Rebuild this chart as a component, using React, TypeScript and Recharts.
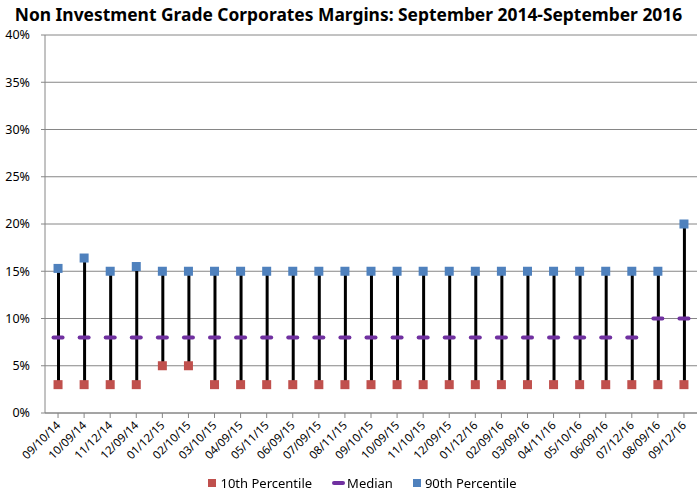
import { ComposedChart, Bar, Line, XAxis, YAxis, CartesianGrid } from 'recharts'

const dates = [
  '09/10/14', '10/09/14', '11/12/14', '12/09/14', '01/12/15', '02/10/15', '03/10/15', '04/09/15',
  '05/11/15', '06/09/15', '07/09/15', '08/11/15', '09/10/15', '10/09/15', '11/10/15', '12/09/15',
  '01/12/16', '02/09/16', '03/09/16', '04/11/16', '05/10/16', '06/09/16', '07/12/16', '08/09/16', '09/12/16',
]
const p10 = [3, 3, 3, 3, 5, 5, 3, 3, 3, 3, 3, 3, 3, 3, 3, 3, 3, 3, 3, 3, 3, 3, 3, 3, 3]
const median = [8, 8, 8, 8, 8, 8, 8, 8, 8, 8, 8, 8, 8, 8, 8, 8, 8, 8, 8, 8, 8, 8, 8, 10, 10]
const p90 = [15.3, 16.4, 15, 15.5, 15, 15, 15, 15, 15, 15, 15, 15, 15, 15, 15, 15, 15, 15, 15, 15, 15, 15, 15, 15, 20]
const yTicks = [0, 5, 10, 15, 20, 25, 30, 35, 40]

const data = dates.map((date, i) => ({
  date,
  p10: p10[i],
  median: median[i],
  p90: p90[i],
  range: [p10[i], p90[i]],
}))

const RED = '#C0504D'
const PURPLE = '#7030A0'
const BLUE = '#4F81BD'
const GRID = '#868686'
const FONT = '"Noto Sans", sans-serif'

const square = (color: string) => (props: any) => {
  const { cx, cy, index } = props
  if (cx == null || cy == null) return <g key={index} />
  return <rect key={index} x={cx - 4.5} y={cy - 4.5} width={9} height={9} fill={color} />
}

const dash = (props: any) => {
  const { cx, cy, index } = props
  if (cx == null || cy == null) return <g key={index} />
  return <rect key={index} x={cx - 6.5} y={cy - 2} width={13} height={4} rx={2} fill={PURPLE} />
}

const XTick = (props: any) => {
  const { x, y, payload } = props
  return (
    <text
      x={x + 3}
      y={y + 6}
      transform={`rotate(-45, ${x + 3}, ${y + 6})`}
      textAnchor="end"
      fontSize={11.5}
      fontFamily={FONT}
      fill="#000"
    >
      {payload.value}
    </text>
  )
}

export default function App() {
  return (
    <div style={{ position: 'fixed', left: 0, top: 0, width: 697, height: 497, background: '#fff' }}>
      <div
        style={{
          position: 'absolute',
          left: 0,
          top: 2,
          width: 697,
          textAlign: 'center',
          fontFamily: FONT,
          fontWeight: 700,
          fontSize: 17.4,
          color: '#000',
        }}
      >
        Non Investment Grade Corporates Margins: September 2014-September 2016
      </div>
      <ComposedChart
        width={697}
        height={497}
        data={data}
        margin={{ top: 35, right: 0, left: 0, bottom: 28 }}
      >
        <CartesianGrid vertical={false} stroke={GRID} />
        <XAxis
          dataKey="date"
          interval={0}
          height={56}
          tick={<XTick />}
          stroke={GRID}
          tickSize={5}
        />
        <YAxis
          width={45}
          domain={[0, 40]}
          ticks={yTicks}
          tickFormatter={(v) => `${v}%`}
          tick={{ fontSize: 12.5, fontFamily: FONT, fill: '#000' }}
          stroke={GRID}
          tickSize={4}
          tickMargin={11}
          interval={0}
        />
        <Bar dataKey="range" barSize={3} fill="#000" isAnimationActive={false} />
        <Line dataKey="p10" stroke="none" dot={square(RED)} activeDot={false} isAnimationActive={false} />
        <Line dataKey="median" stroke="none" dot={dash} activeDot={false} isAnimationActive={false} />
        <Line dataKey="p90" stroke="none" dot={square(BLUE)} activeDot={false} isAnimationActive={false} />
      </ComposedChart>
      <div
        style={{
          position: 'absolute',
          left: 14,
          top: 474,
          width: 697,
          display: 'flex',
          justifyContent: 'center',
          alignItems: 'center',
          gap: 20,
          fontFamily: FONT,
          fontSize: 13,
          color: '#000',
        }}
      >
        <span style={{ display: 'flex', alignItems: 'center', gap: 4 }}>
          <span style={{ width: 8, height: 8, background: RED, display: 'inline-block' }} />
          10th Percentile
        </span>
        <span style={{ display: 'flex', alignItems: 'center', gap: 2 }}>
          <span style={{ width: 13, height: 4, borderRadius: 2, background: PURPLE, display: 'inline-block' }} />
          Median
        </span>
        <span style={{ display: 'flex', alignItems: 'center', gap: 4 }}>
          <span style={{ width: 8, height: 8, background: BLUE, display: 'inline-block' }} />
          90th Percentile
        </span>
      </div>
    </div>
  )
}
